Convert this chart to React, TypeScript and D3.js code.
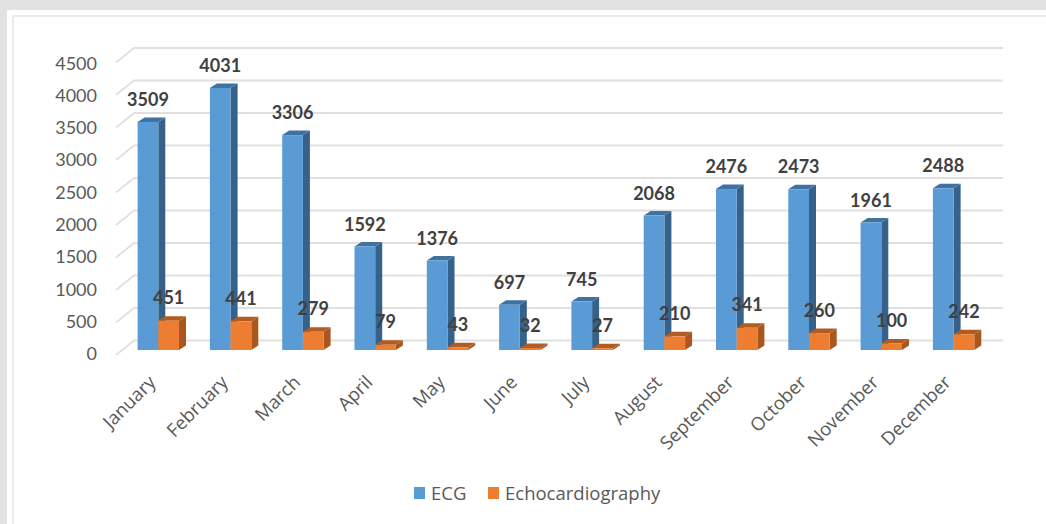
import React from "react";
import * as d3 from "d3";

const months = ["January", "February", "March", "April", "May", "June", "July", "August", "September", "October", "November", "December"];
const ecg = [3509, 4031, 3306, 1592, 1376, 697, 745, 2068, 2476, 2473, 1961, 2488];
const echo = [451, 441, 279, 79, 43, 32, 27, 210, 341, 260, 100, 242];
const yTicks = [0, 500, 1000, 1500, 2000, 2500, 3000, 3500, 4000, 4500];

const FONT = "Lato, 'Open Sans', sans-serif";
const LABEL_FONT = "'Open Sans', Lato, sans-serif";
const WIDTH = 1046;
const HEIGHT = 524;

const x = d3.scaleBand<string>().domain(months).range([122.15, 989.75]).padding(0);
const y = d3.scaleLinear().domain([0, 4500]).range([350, 57.5]);
// Axis labels sit on a slightly tighter ladder than the gridlines.
const yLabel = d3.scaleLinear().domain([0, 4500]).range([355.5, 65]);

// Column proportions and the oblique offset of the pseudo-3D columns.
const BAR_W = 20.7;
const DEPTH_X = 7;
const DEPTH_Y = 4.5;
// Offset between the front plane and the back wall carrying the gridlines.
const WALL_X = 18;
const WALL_Y = 9.5;
const WALL_RIGHT = 1003;
const FRONT_DROP = 14.5;

type BarProps = { left: number; value: number; front: string; top: string; side: string };

function Bar3D({ left, value, front, top, side }: BarProps) {
  const base = y(0);
  const yTop = y(value);
  const right = left + BAR_W;
  const line = d3.line();
  const topFace = line([[left, yTop], [left + DEPTH_X, yTop - DEPTH_Y], [right + DEPTH_X, yTop - DEPTH_Y], [right, yTop]]) + "Z";
  const sideFace = line([[right, yTop], [right + DEPTH_X, yTop - DEPTH_Y], [right + DEPTH_X, base - DEPTH_Y], [right, base]]) + "Z";
  return (
    <g>
      <path d={sideFace} fill={side} />
      <path d={topFace} fill={top} />
      <rect x={left} y={yTop} width={BAR_W} height={base - yTop} fill={front} />
    </g>
  );
}

export default function App() {
  return (
    <svg
      width={WIDTH}
      height={HEIGHT}
      viewBox={`0 0 ${WIDTH} ${HEIGHT}`}
      style={{ position: "absolute", left: 0, top: 0, display: "block" }}
      fontFamily={FONT}
    >
      {/* Page frame around the chart */}
      <rect x={0} y={0} width={WIDTH} height={HEIGHT} fill="#e2e2e2" />
      <rect x={7} y={10} width={WIDTH - 7} height={HEIGHT - 10} fill="#ffffff" />
      <path d={`M${WIDTH} 16 H13 V${HEIGHT}`} fill="none" stroke="#ebebeb" strokeWidth={2} />

      {/* Back wall gridlines with their receding side-wall segments */}
      {yTicks.map((t) => {
        const wy = y(t) - WALL_Y;
        return (
          <path
            key={t}
            d={`M${WALL_RIGHT} ${wy} H${116 + WALL_X} L116 ${wy + FRONT_DROP}`}
            fill="none"
            stroke="#e0e0e0"
            strokeWidth={1.8}
          />
        );
      })}

      {/* Value axis labels */}
      {yTicks.map((t) => (
        <text key={t} x={97} y={yLabel(t)} textAnchor="end" fontSize={18} fill="#595959" dominantBaseline="middle">
          {t}
        </text>
      ))}

      {/* Columns */}
      {months.map((m, i) => {
        const c = (x(m) as number) + x.bandwidth() / 2;
        return (
          <g key={m}>
            <Bar3D left={c - BAR_W} value={ecg[i]} front="#5b9bd5" top="#3e72a3" side="#35618b" />
            <Bar3D left={c} value={echo[i]} front="#ed7d31" top="#b05c22" side="#a9571f" />
          </g>
        );
      })}

      {/* Value labels */}
      {months.map((m, i) => {
        const c = (x(m) as number) + x.bandwidth() / 2;
        return (
          <g key={m} fontSize={18} fontWeight={700} fill="#404040" textAnchor="middle" dominantBaseline="middle">
            <text x={c - BAR_W / 2} y={y(ecg[i]) - 20.5}>{ecg[i]}</text>
            <text x={c + BAR_W / 2} y={y(echo[i]) - 21}>{echo[i]}</text>
          </g>
        );
      })}

      {/* Category labels */}
      {months.map((m) => {
        const c = (x(m) as number) + x.bandwidth() / 2;
        return (
          <text
            key={m}
            transform={`translate(${c - 5},${380}) rotate(-45)`}
            textAnchor="end"
            dominantBaseline="middle"
            fontFamily={LABEL_FONT}
            fontSize={18.5}
            fill="#595959"
          >
            {m}
          </text>
        );
      })}

      {/* Legend */}
      <rect x={414} y={487} width={11} height={12} fill="#5b9bd5" />
      <text x={431} y={495} fontFamily={LABEL_FONT} fontSize={18.5} fill="#595959" dominantBaseline="middle">ECG</text>
      <rect x={488} y={487} width={11} height={12} fill="#ed7d31" />
      <text x={505} y={495} fontFamily={LABEL_FONT} fontSize={18.5} fill="#595959" dominantBaseline="middle">Echocardiography</text>
    </svg>
  );
}
